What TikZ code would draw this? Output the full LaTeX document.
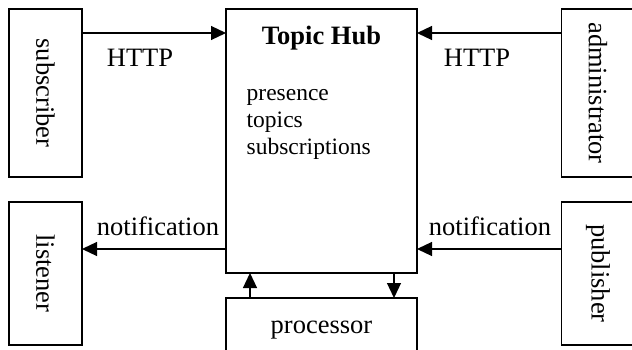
\documentclass[tikz,border=0pt]{standalone}
\usepackage{fontspec}
\setmainfont{Liberation Serif}
\usetikzlibrary{arrows.meta}

\tikzset{
  box/.style={draw, line width=1.2pt, rectangle, inner sep=0pt, outer sep=0pt},
  lbl/.style={font=\fontsize{26.5}{28}\selectfont, inner sep=0pt, anchor=base},
  item/.style={font=\fontsize{23.5}{27}\selectfont, inner sep=0pt, anchor=base west},
  flow/.style={line width=1.2pt, -{Triangle[length=15pt,width=14pt]}}
}

\begin{document}
\begin{tikzpicture}[x=1pt,y=-1pt]
  \useasboundingbox (0,0) rectangle (632,350);
  \clip (0,0) rectangle (632,350);

  % side components
  \node[box, minimum width=73pt, minimum height=168pt, lbl, anchor=center]
    (sub) at (45.5,93) {\rotatebox{-90}{subscriber}};
  \node[box, minimum width=73pt, minimum height=143pt, lbl, anchor=center]
    (lis) at (45.5,273.5) {\rotatebox{-90}{listener}};
  \node[box, minimum width=73pt, minimum height=168pt, lbl, anchor=center]
    (adm) at (598,93) {\rotatebox{-90}{administrator}};
  \node[box, minimum width=73pt, minimum height=143pt, lbl, anchor=center]
    (pub) at (598,273.5) {\rotatebox{-90}{publisher}};

  % central hub and processor
  \node[box, minimum width=191pt, minimum height=264pt] (hub) at (321.5,141) {};
  \node[box, minimum width=191pt, minimum height=70pt] (proc) at (321.5,333) {};

  \node[lbl, font=\fontsize{26.5}{28}\selectfont\bfseries] (title) at (321.5,45) {Topic Hub};
  \node[item] (i1) at (246.5,100.5) {presence};
  \node[item] (i2) at (246.5,127.5) {topics};
  \node[item] (i3) at (246.5,154.5) {subscriptions};
  \node[lbl] (ptxt) at (321.5,333) {processor};

  % connectors
  \coordinate (subA) at (82,33);
  \coordinate (hubA) at (226,33);
  \coordinate (admA) at (561.5,33);
  \coordinate (hubB) at (417,33);
  \draw[flow] (subA) -- (hubA);
  \draw[flow] (admA) -- (hubB);

  \coordinate (hubC) at (226,249);
  \coordinate (lisA) at (82,249);
  \coordinate (pubA) at (561.5,249);
  \coordinate (hubD) at (417,249);
  \draw[flow] (hubC) -- (lisA);
  \draw[flow] (pubA) -- (hubD);

  \draw[flow] (proc.north -| 250,0) -- (hub.south -| 250,0);
  \draw[flow] (hub.south -| 394,0) -- (proc.north -| 394,0);

  % connector labels
  \node[lbl] (h1) at (140,67) {HTTP};
  \node[lbl] (h2) at (477,67) {HTTP};
  \node[lbl] (n1) at (158,235) {notification};
  \node[lbl] (n2) at (490,235) {notification};
\end{tikzpicture}
\end{document}
